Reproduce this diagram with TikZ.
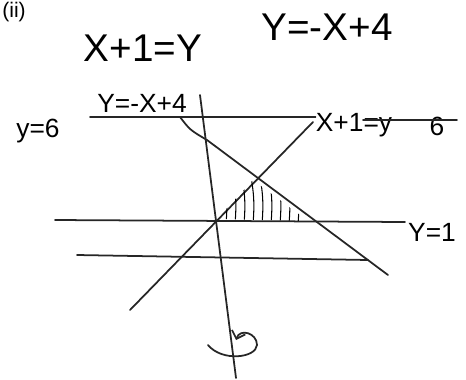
\documentclass[tikz,border=0pt]{standalone}
\usepackage{fontspec}
\setmainfont{Liberation Sans}
\usetikzlibrary{positioning, arrows.meta}

\begin{document}
\begin{tikzpicture}[x=0.02cm, y=-0.02cm, line cap=round]
\tikzset{trazo/.style={line width=1pt, black!85},
  etiqueta/.style={inner sep=0pt, font=\fontsize{22}{24}\selectfont},
  etiq/.style={inner sep=0pt, font=\fontsize{15}{17}\selectfont}}
\useasboundingbox (0,0) rectangle (466,379);

% Rectas y eje de giro
\coordinate (H1) at (90,117);
\coordinate (H3) at (363,120);
\coordinate (H2) at (457,120);
\coordinate (L1) at (55,220);
\coordinate (L2) at (405,222);
\coordinate (M1) at (77,255);
\coordinate (M2) at (368,260);
\coordinate (E1) at (200,95);
\coordinate (E2) at (236,378);
\coordinate (A1) at (130,310);
\coordinate (A2) at (313,122);
\coordinate (D1) at (180,117);
\coordinate (D0) at (207,140);
\coordinate (D2) at (388,275);

% Ecuaciones
\node[etiqueta] (ecA) at (143,48) {X+1=Y};
\node[etiqueta] (ecB) at (327,27) {Y=-X+4};
\node[etiq, anchor=north west, font=\fontsize{12}{14}\selectfont] (inciso) at (2,2) {(ii)};
\node[etiq] (y6) at (38,131) {y=6};
\node[etiq] (ecB2) at (142,103) {Y=-X+4};
\node[etiq] (ecA2) at (354,125) {X+1=y};
\node[etiq] (seis) at (437,126) {6};
\node[etiq] (y1) at (432,232) {Y=1};

\draw[trazo] (H1) -- (ecA2.west |- H1);
\draw[trazo] (H3) -- (H2);
\draw[trazo] (L1) -- (L2);
\draw[trazo] (M1) -- (M2);
\draw[trazo] (A1) -- (A2);
\draw[trazo] (D1) .. controls (190,130) .. (D0) -- (D2);
\draw[trazo] (E1) -- (E2);

% Region sombreada
\begin{scope}
\clip (217,219) -- (253,180) -- (308,221) -- cycle;
\foreach \x in {223,232,...,300}
  \draw[line width=0.6pt] (\x,172) to[bend left=8] (\x+3,224);
\end{scope}

% Giro
\draw[trazo, -{Straight Barb[length=4pt]}] (208,345) .. controls (222,362) and (256,358) .. (257,345)
  .. controls (257,333) and (240,328) .. (236,340);
\end{tikzpicture}
\end{document}
